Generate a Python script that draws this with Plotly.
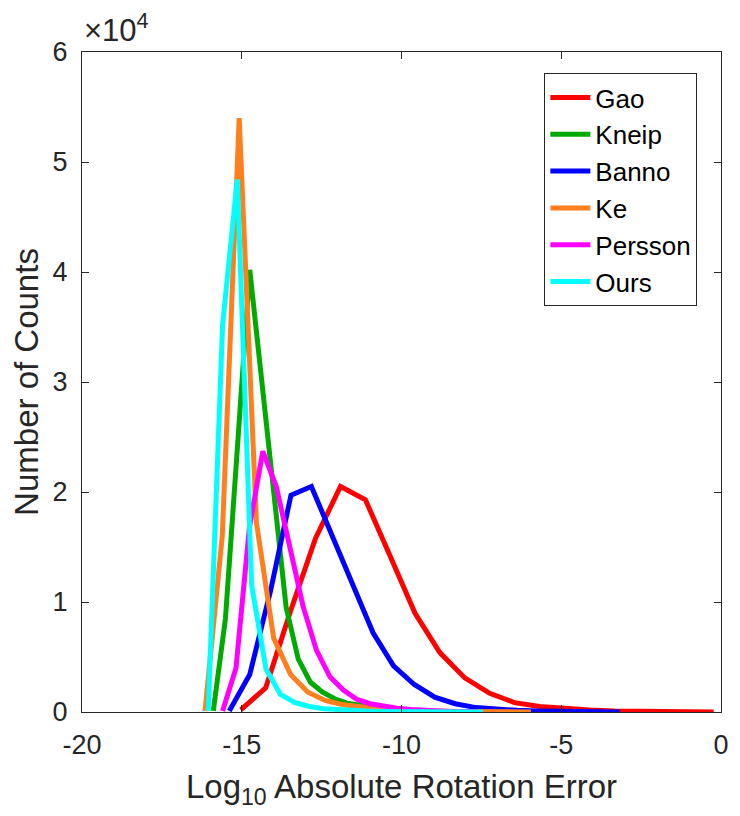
import plotly.graph_objects as go

# ---- data (bin centres in log10 error, counts) ----
gao_x = [-15.03, -14.25, -13.47, -12.69, -11.91, -11.13, -10.36, -9.58, -8.80, -8.02,
         -7.24, -6.46, -5.68, -4.90, -4.12, -3.35, -2.57, -1.79, -1.01, -0.23]
gao_y = [200, 2200, 9200, 15800, 20500, 19300, 14200, 9000, 5400, 3100,
         1700, 850, 500, 300, 180, 100, 60, 30, 20, 10]

kneip_x = [-15.89, -15.51, -15.13, -14.75, -14.37, -13.99, -13.61, -13.23, -12.85, -12.47,
           -12.09, -11.71, -11.33, -10.95, -10.57, -10.19, -9.81, -9.43, -9.05, -8.67]
kneip_y = [100, 8500, 24300, 40200, 30000, 20000, 9500, 4800, 2700, 1800,
           1200, 800, 600, 400, 300, 200, 120, 80, 50, 20]

banno_x = [-15.39, -14.75, -14.10, -13.46, -12.82, -12.17, -11.53, -10.89, -10.25, -9.60,
           -8.96, -8.32, -7.67, -7.03, -6.39, -5.75, -5.10, -4.46, -3.82, -3.17]
banno_y = [100, 3400, 11000, 19700, 20500, 16000, 11500, 7200, 4200, 2500,
           1350, 750, 400, 250, 150, 100, 70, 50, 30, 10]

ke_x = [-16.15, -15.61, -15.08, -14.54, -14.00, -13.47, -12.93, -12.39, -11.86, -11.32,
        -10.78, -10.25, -9.71, -9.17, -8.63, -8.10, -7.56, -7.02, -6.49, -5.95]
ke_y = [100, 16000, 54000, 17200, 6700, 3400, 1800, 1050, 680, 450,
        300, 200, 130, 90, 60, 40, 30, 20, 10, 10]

persson_x = [-15.60, -15.18, -14.76, -14.34, -13.92, -13.50, -13.08, -12.66, -12.24, -11.82,
             -11.40, -10.98, -10.56, -10.14, -9.72, -9.30, -8.88, -8.46, -8.04, -7.62]
persson_y = [100, 4000, 16800, 23700, 20500, 15200, 9600, 5600, 3200, 2000,
             1150, 750, 500, 350, 220, 140, 90, 50, 30, 20]

ours_x = [-16.05, -15.60, -15.14, -14.69, -14.24, -13.79, -13.33, -12.88, -12.43, -11.98,
          -11.52, -11.07, -10.62, -10.17, -9.71, -9.26, -8.81, -8.36, -7.90, -7.45]
ours_y = [100, 35200, 48400, 11500, 3900, 1600, 850, 500, 300, 200,
          120, 80, 50, 30, 20, 15, 10, 8, 5, 3]

names = ["Gao", "Kneip", "Banno", "Ke", "Persson", "Ours"]
colors = ["#ff0000", "#00aa00", "#0000ff", "#ff7f1e", "#ff00ff", "#00ffff"]
xs = [gao_x, kneip_x, banno_x, ke_x, persson_x, ours_x]
ys = [gao_y, kneip_y, banno_y, ke_y, persson_y, ours_y]

x_ticks = [-20, -15, -10, -5, 0]
x_labels = ["-20", "-15", "-10", "-5", "0"]
y_ticks = [0, 10000, 20000, 30000, 40000, 50000, 60000]
y_labels = ["0", "1", "2", "3", "4", "5", "6"]

FONT = "Liberation Sans, Arial, sans-serif"
AX = "#262626"

fig = go.Figure()
for n, c, x, y in zip(names, colors, xs, ys):
    fig.add_trace(go.Scatter(x=x, y=y, name=n, mode="lines",
                             line=dict(color=c, width=5)))

fig.update_layout(
    width=740, height=816,
    margin=dict(l=82, r=11, t=52, b=104),
    paper_bgcolor="white", plot_bgcolor="white",
    font=dict(family=FONT, color=AX, size=27),
    showlegend=True,
    legend=dict(x=0.963, y=0.968, xanchor="right", yanchor="top",
                bordercolor=AX, borderwidth=1, bgcolor="white",
                font=dict(size=26, color="#000000"),
                tracegroupgap=0, itemwidth=40),
)
fig.update_xaxes(range=[-20, 0], tickvals=x_ticks, ticktext=x_labels,
                 ticks="inside", ticklen=7, tickcolor=AX,
                 showline=True, linecolor=AX, linewidth=1, mirror="ticks",
                 showgrid=False, zeroline=False, ticklabelstandoff=9,
                 tickfont=dict(size=27, color=AX),
                 title=dict(text="Log<sub>10</sub> Absolute Rotation Error",
                            font=dict(size=33, color=AX), standoff=15))
fig.update_yaxes(range=[0, 60000], tickvals=y_ticks, ticktext=y_labels,
                 ticks="inside", ticklen=7, tickcolor=AX,
                 showline=True, linecolor=AX, linewidth=1, mirror="ticks",
                 showgrid=False, zeroline=False, ticklabelstandoff=8,
                 tickfont=dict(size=27, color=AX),
                 title=dict(text="Number of Counts",
                            font=dict(size=33, color=AX), standoff=4))
fig.add_annotation(xref="paper", yref="paper", x=0, y=1, xanchor="left",
                   yanchor="bottom", yshift=2, showarrow=False,
                   text="×10<sup>4</sup>", font=dict(size=31, color=AX))

fig.write_html("out.html")
